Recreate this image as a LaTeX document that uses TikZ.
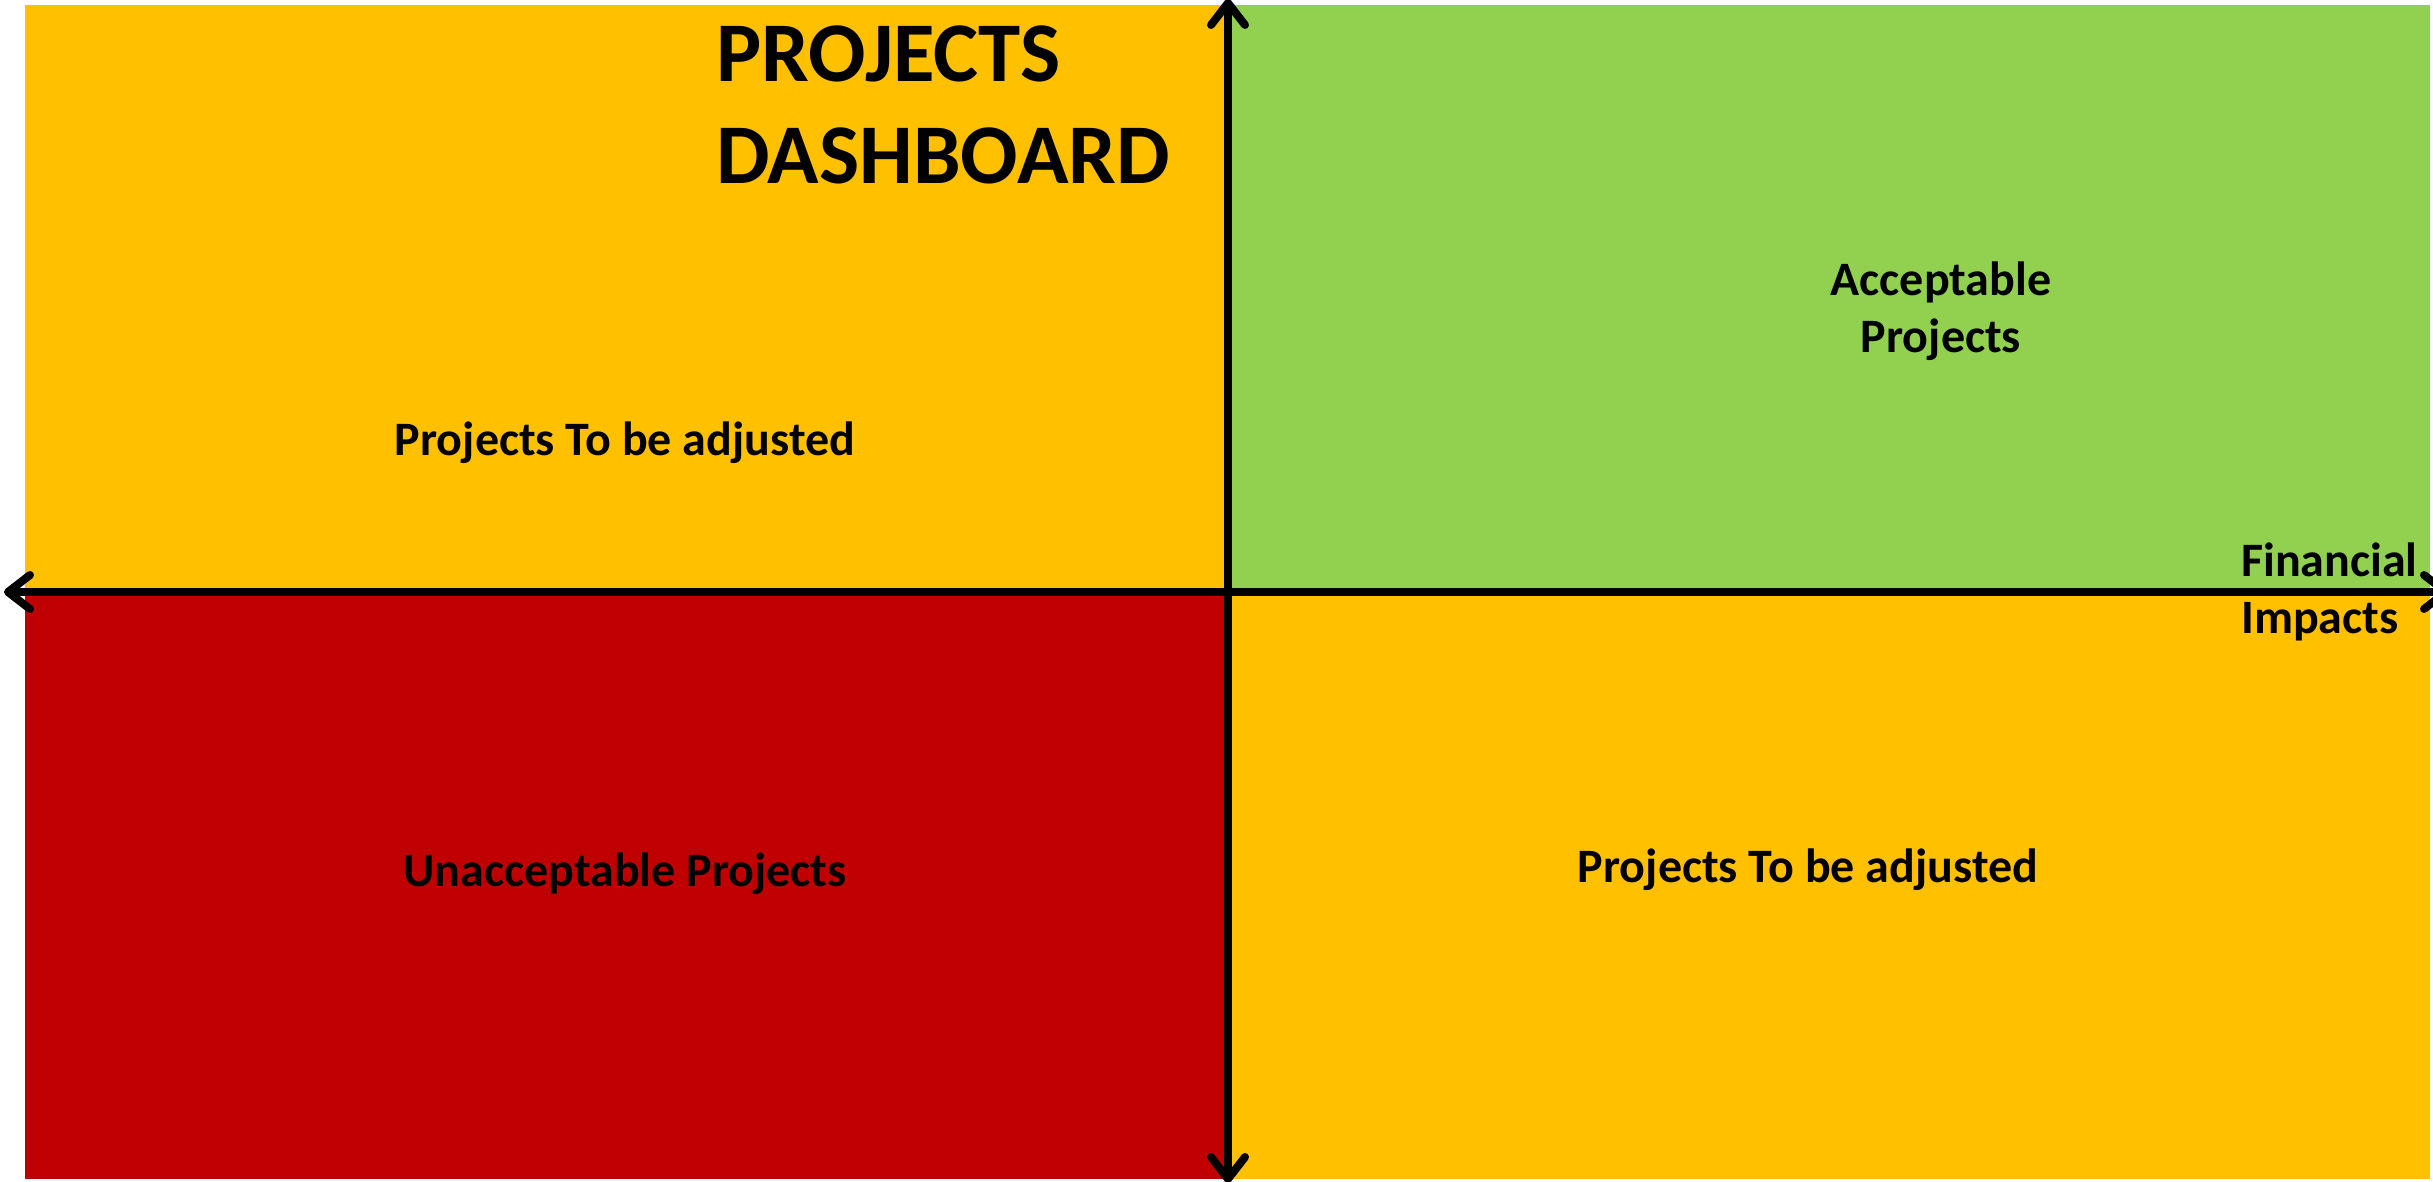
\documentclass[tikz,border=0pt]{standalone}
\usepackage{fontspec}
\setmainfont{Carlito}
\usetikzlibrary{arrows.meta}
\definecolor{qorange}{HTML}{FFC000}
\definecolor{qgreen}{HTML}{92D050}
\definecolor{qred}{HTML}{C00000}
\tikzset{
  axis/.style={line width=8pt, line cap=round,
    arrows={Straight Barb[length=22pt,width=34pt,line cap=round,line join=round]-Straight Barb[length=22pt,width=34pt,line cap=round,line join=round]}},
  lbl/.style={font=\fontsize{48}{57}\selectfont\bfseries, align=center, inner sep=0pt},
}
\begin{document}
\begin{tikzpicture}[x=1pt,y=-1pt]
\useasboundingbox (0,0) rectangle (2433,1182);
\fill[white] (0,0) rectangle (2433,1182);
\fill[qorange] (25,5) rectangle (1228,592);
\fill[qgreen] (1228,5) rectangle (2430,592);
\fill[qred] (25,592) rectangle (1228,1179);
\fill[qorange] (1228,592) rectangle (2430,1179);

\node[anchor=north west, inner sep=0pt, align=left,
  font=\fontsize{85}{102}\selectfont\bfseries] (title) at (716,26) {PROJECTS\\DASHBOARD};

\node[lbl] (tl) at (625,443) {Projects To be adjusted};
\node[lbl] (tr) at (1941,311) {Acceptable\\Projects};
\node[lbl] (bl) at (625,874) {Unacceptable Projects};
\node[lbl] (br) at (1808,870) {Projects To be adjusted};
\node[lbl, align=left, anchor=north west] (fin) at (2241,543) {Financial\\Impacts};

\coordinate (top) at (1228,-1);
\coordinate (bottom) at (1228,1183);
\coordinate (left) at (4,592);
\coordinate (right) at (2450,592);
\draw[axis] (left) -- (right);
\draw[axis] (bottom) -- (top);
\end{tikzpicture}
\end{document}
